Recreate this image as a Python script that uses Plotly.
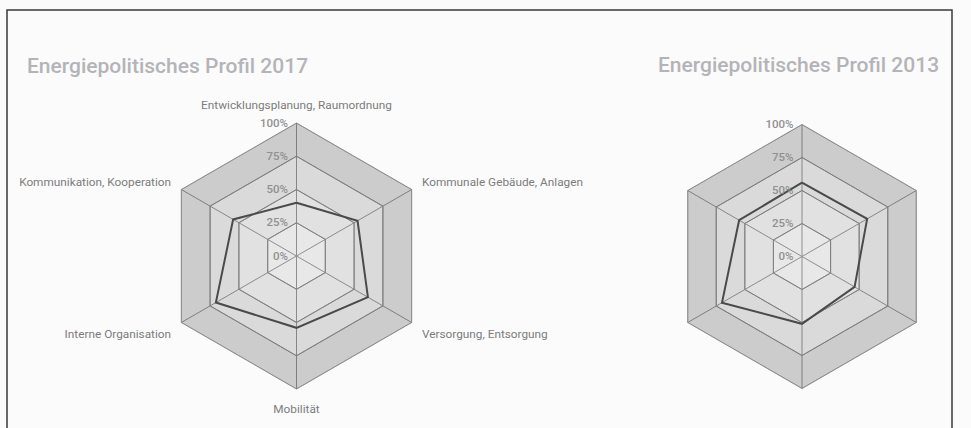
import plotly.graph_objects as go

categories = [
    "Entwicklungsplanung, Raumordnung",
    "Kommunale Gebäude, Anlagen",
    "Versorgung, Entsorgung",
    "Mobilität",
    "Interne Organisation",
    "Kommunikation, Kooperation",
]
values_2017 = [40, 53, 62, 54, 70, 55]
values_2013 = [56, 57, 46, 51, 70, 55]
ring_levels = [25, 50, 75, 100]
ring_fills = ["rgba(0,0,0,0.075)", "rgba(0,0,0,0.10)", "rgba(0,0,0,0.13)", "rgba(0,0,0,0.185)"]
tick_vals = [0, 25, 50, 75, 100]
tick_text = ["0%", "25%", "50%", "75%", "100%"]
titles = ["Energiepolitisches Profil 2017", "Energiepolitisches Profil 2013"]

W, H = 971, 428
fig = go.Figure()

def closed(lst):
    return list(lst) + [lst[0]]

for sp, vals in (("polar", values_2017), ("polar2", values_2013)):
    for i, (lvl, fc) in enumerate(zip(ring_levels, ring_fills)):
        fig.add_trace(go.Scatterpolar(
            r=closed([lvl] * len(categories)), theta=closed(categories),
            mode="lines", line=dict(color="rgba(125,125,125,0.85)", width=1),
            fill="toself" if i == 0 else "tonext", fillcolor=fc,
            hoverinfo="skip", showlegend=False, subplot=sp))
    fig.add_trace(go.Scatterpolar(
        r=closed(vals), theta=closed(categories), mode="lines",
        line=dict(color="#4a4a4a", width=2), hoverinfo="skip",
        showlegend=False, subplot=sp))

def px_domain(cx, cy, R):
    return dict(x=[(cx - R) / W, (cx + R) / W], y=[(H - cy - R) / H, (H - cy + R) / H])

common_radial = dict(
    range=[0, 100], tickvals=tick_vals, ticktext=tick_text, angle=90,
    side="counterclockwise", showline=False, gridcolor="#9a9a9a", gridwidth=1,
    tickfont=dict(family="Roboto", size=11.5, color="#909090", weight=500),
    ticks="outside", ticklen=4, tickcolor="rgba(0,0,0,0)",
    tickangle=90,
)
def angular(show):
    return dict(
        rotation=90, direction="clockwise", categoryorder="array",
        categoryarray=categories, showline=True, linecolor="#8a8a8a",
        gridcolor="#9a9a9a", showticklabels=show, ticks="outside" if show else "",
        ticklen=9, tickcolor="rgba(0,0,0,0)",
        tickfont=dict(family="Roboto", size=11.8, color="#7c7c7c"),
    )

fig.update_layout(
    width=W, height=H, margin=dict(l=0, r=0, t=0, b=0),
    paper_bgcolor="#fbfbfb", plot_bgcolor="#fbfbfb",
    polar=dict(domain=px_domain(296.5, 256, 133), bgcolor="rgba(0,0,0,0)",
               gridshape="linear", radialaxis=common_radial, angularaxis=angular(True)),
    polar2=dict(domain=px_domain(802, 256.5, 132), bgcolor="rgba(0,0,0,0)",
                gridshape="linear", radialaxis=common_radial, angularaxis=angular(False)),
    shapes=[dict(type="rect", xref="paper", yref="paper",
                 x0=7 / W, x1=952 / W, y0=-0.1, y1=1 - 10 / H,
                 line=dict(color="#3a3a3a", width=1.5))],
    annotations=[
        dict(text=titles[0], x=25 / W, y=1 - 66 / H, xref="paper", yref="paper",
             xanchor="left", yanchor="middle", showarrow=False,
             font=dict(family="Roboto", size=21, color="#b4b4b8", weight=500)),
        dict(text=titles[1], x=941 / W, y=1 - 65 / H, xref="paper", yref="paper",
             xanchor="right", yanchor="middle", showarrow=False,
             font=dict(family="Roboto", size=21, color="#b4b4b8", weight=500)),
    ],
)

fig.write_html("out.html", config={"displayModeBar": False},
               post_script="document.body.style.margin='0';")
